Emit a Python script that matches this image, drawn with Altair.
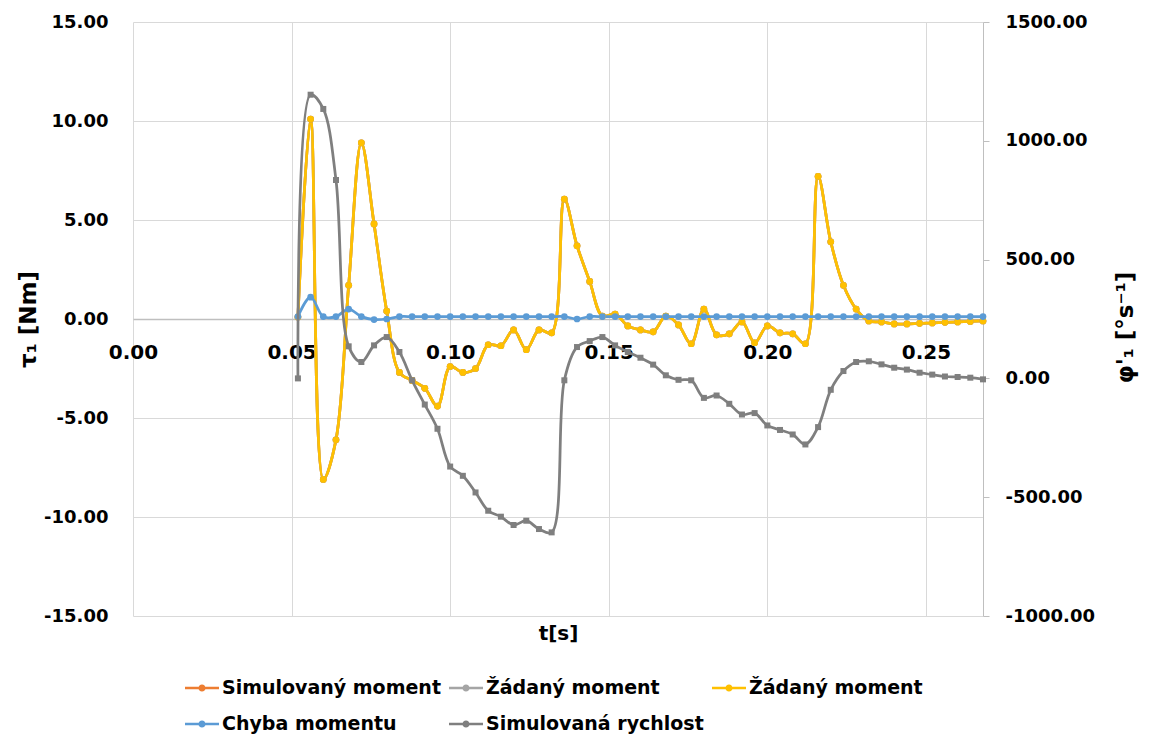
import altair as alt
import pandas as pd

# time axis [s]
t = [0.052, 0.056, 0.060, 0.064, 0.068, 0.072, 0.076, 0.080, 0.084, 0.088,
     0.092, 0.096, 0.100, 0.104, 0.108, 0.112, 0.116, 0.120, 0.124, 0.128,
     0.132, 0.136, 0.140, 0.144, 0.148, 0.152, 0.156, 0.160, 0.164, 0.168,
     0.172, 0.176, 0.180, 0.184, 0.188, 0.192, 0.196, 0.200, 0.204, 0.208,
     0.212, 0.216, 0.220, 0.224, 0.228, 0.232, 0.236, 0.240, 0.244, 0.248,
     0.252, 0.256, 0.260, 0.264, 0.268]

# torque [Nm]
tau_desired = [0.1, 10.1, -8.1, -6.1, 1.7, 8.9, 4.8, 0.4, -2.7, -3.1,
               -3.5, -4.4, -2.4, -2.7, -2.5, -1.3, -1.35, -0.55, -1.55, -0.55,
               -0.7, 6.05, 3.7, 1.9, 0.15, 0.25, -0.35, -0.55, -0.65, 0.15,
               -0.3, -1.25, 0.5, -0.8, -0.75, -0.15, -1.2, -0.35, -0.7, -0.75,
               -1.25, 7.2, 3.9, 1.7, 0.5, -0.1, -0.15, -0.25, -0.25, -0.22,
               -0.2, -0.17, -0.15, -0.12, -0.1]
tau_simulated = [0.1, 10.1, -8.1, -6.1, 1.7, 8.9, 4.8, 0.4, -2.7, -3.1,
                 -3.5, -4.4, -2.4, -2.7, -2.5, -1.3, -1.35, -0.55, -1.55, -0.55,
                 -0.7, 6.05, 3.7, 1.9, 0.15, 0.25, -0.35, -0.55, -0.65, 0.15,
                 -0.3, -1.25, 0.5, -0.8, -0.75, -0.15, -1.2, -0.35, -0.7, -0.75,
                 -1.25, 7.2, 3.9, 1.7, 0.5, -0.1, -0.15, -0.25, -0.25, -0.22,
                 -0.2, -0.17, -0.15, -0.12, -0.1]
tau_error = [0.12, 1.1, 0.12, 0.12, 0.5, 0.12, -0.03, 0.0, 0.12, 0.12,
             0.12, 0.12, 0.12, 0.12, 0.12, 0.12, 0.12, 0.12, 0.12, 0.12,
             0.12, 0.12, 0.0, 0.12, 0.12, 0.12, 0.12, 0.12, 0.12, 0.12,
             0.12, 0.12, 0.12, 0.12, 0.12, 0.12, 0.12, 0.12, 0.12, 0.12,
             0.12, 0.12, 0.12, 0.12, 0.12, 0.12, 0.12, 0.12, 0.12, 0.12,
             0.12, 0.12, 0.12, 0.12, 0.12]
# angular speed [deg/s]
speed = [0, 1194, 1134, 835, 135, 69, 139, 174, 111, -8,
         -110, -212, -371, -410, -480, -557, -582, -617, -599, -634,
         -648, -8, 132, 157, 174, 139, 111, 87, 58, 13,
         -6, -8, -82, -72, -107, -152, -146, -198, -217, -236,
         -278, -205, -48, 31, 69, 72, 59, 45, 37, 24,
         16, 8, 6, 3, -4]

names = ["Simulovaný moment", "Žádaný moment", "Žádaný moment\u00a0",
         "Chyba momentu", "Simulovaná rychlost"]
colors = ["#ED7D31", "#A5A5A5", "#FFC000", "#5B9BD5", "#7F7F7F"]
torque_series = [tau_simulated, tau_desired, tau_desired, tau_error]

rows = []
for name, vals in zip(names[:4], torque_series):
    for ti, v in zip(t, vals):
        rows.append({"t": ti, "v": v, "series": name})
torque_df = pd.DataFrame(rows)
speed_df = pd.DataFrame({"t": t, "v": speed, "series": names[4]})

W, H = 850, 594
FONT = "DejaVu Sans"
LABEL_EXPR = "replace(format(datum.value, '.2f'), '−', '-')"
CURVE = "catmull-rom"

x_enc = alt.X(
    "t:Q",
    scale=alt.Scale(domain=[0, 0.268], nice=False, zero=False),
    axis=alt.Axis(values=[0, 0.05, 0.10, 0.15, 0.20, 0.25], format=".2f",
                  offset=-H / 2, title="t[s]", titleY=H / 2 + 17,
                  titleBaseline="middle", ticks=False, domain=True,
                  domainColor="#BFBFBF", domainWidth=1.3, grid=True,
                  labelPadding=23, labelFontSize=20, labelFlush=False,
                  labelOverlap=False),
)

y_left = alt.Y(
    "v:Q",
    scale=alt.Scale(domain=[-15, 15], nice=False, zero=False),
    axis=alt.Axis(values=[-15, -10, -5, 0, 5, 10, 15], labelExpr=LABEL_EXPR,
                  title="τ₁ [Nm]", titleAngle=270, titleX=-105, titleY=H / 2,
                  titleAlign="center", titleBaseline="middle", titleFontSize=23,
                  grid=True, domain=False, ticks=False, labelPadding=25),
)
y_right = alt.Y(
    "v:Q",
    scale=alt.Scale(domain=[-1000, 1500], nice=False, zero=False),
    axis=alt.Axis(orient="right", values=[-1000, -500, 0, 500, 1000, 1500],
                  labelExpr=LABEL_EXPR, title="φ'₁ [°s⁻¹]", titleAngle=270,
                  titleX=142, titleY=H / 2 + 8, titleAlign="center",
                  titleBaseline="middle", titleFontSize=23, grid=False,
                  domain=True, domainColor="#BFBFBF", ticks=True,
                  tickColor="#BFBFBF", tickSize=6, labelPadding=16),
)

LEG_PATH = ("M-1,-0.075L1,-0.075L1,0.075L-1,0.075Z "
            "M0.21,0A0.21,0.21,0,1,1,-0.21,0A0.21,0.21,0,1,1,0.21,0Z")

color_leg = alt.Color(
    "series:N", scale=alt.Scale(domain=names, range=colors),
    legend=alt.Legend(orient="none", legendX=52, legendY=649,
                      direction="horizontal", columns=3, title=None,
                      symbolType=LEG_PATH, symbolSize=1156,
                      symbolStrokeWidth=0, labelFont=FONT,
                      labelFontSize=19, labelFontWeight="bold",
                      labelColor="#000000", labelOffset=3, labelLimit=400,
                      columnPadding=8, rowPadding=9, padding=0),
)

torque_lines = []
for name, col in zip(names[:4], colors[:4]):
    torque_lines.append(
        alt.Chart(torque_df)
        .transform_filter(alt.datum.series == name)
        .mark_line(interpolate=CURVE, strokeWidth=2.75, color=col)
        .encode(x=x_enc, y=y_left)
    )
torque_points = alt.Chart(torque_df).mark_point(
    filled=True, size=45, opacity=1
).encode(x=x_enc, y=y_left, color=color_leg)

speed_line = alt.Chart(speed_df).mark_line(
    interpolate=CURVE, strokeWidth=2.75, color=colors[4]
).encode(x=x_enc, y=y_right)
speed_points = alt.Chart(speed_df).mark_square(
    size=36, opacity=1, color=colors[4]
).encode(x=x_enc, y=y_right)

torque_layer = alt.layer(*torque_lines, torque_points)
speed_layer = alt.layer(speed_line, speed_points)

chart = (
    alt.layer(torque_layer, speed_layer)
    .resolve_scale(y="independent")
    .properties(width=W, height=H,
                padding={"left": 125, "top": 14, "right": 158, "bottom": 120},
                autosize=alt.AutoSizeParams(type="none"))
    .configure_view(strokeWidth=0)
    .configure_axis(labelFont=FONT, labelFontWeight="bold", labelFontSize=18,
                    labelColor="#000000", titleFont=FONT, titleFontSize=20,
                    titleFontWeight="bold", titleColor="#000000",
                    gridColor="#D9D9D9", gridWidth=1)
)

chart.save("out.html", embed_options={"renderer": "svg", "actions": False})
